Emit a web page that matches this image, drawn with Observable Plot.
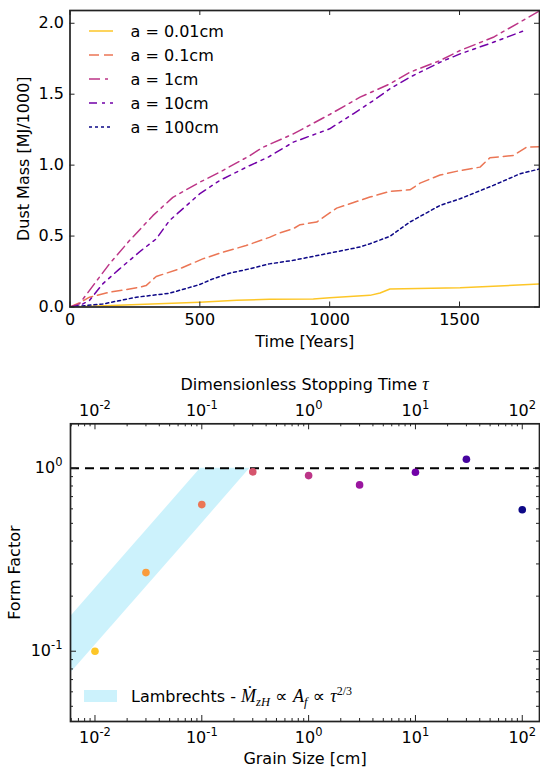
<!DOCTYPE html>
<html><head><meta charset="utf-8">
<script src="https://cdn.jsdelivr.net/npm/d3@7"></script>
<script src="https://cdn.jsdelivr.net/npm/@observablehq/plot@0.6"></script>
<style>
body{margin:0;background:#fff;}
#c{width:540px;}
#c svg{display:block;}
</style></head><body><div id="c"></div>
<script>
// ---------- Top chart data ----------
const seriesLabels = ["a = 0.01cm", "a = 0.1cm", "a = 1cm", "a = 10cm", "a = 100cm"];
const time001 = [0, 499, 642, 768, 937, 1000, 1155, 1194, 1232, 1502, 1810];
const mass001 = [0, 0.034, 0.047, 0.055, 0.056, 0.065, 0.082, 0.099, 0.127, 0.136, 0.162];
const time01 = [0, 37, 75, 152, 268, 293, 332, 422, 511, 588, 678, 768, 809, 860, 886, 950, 1027, 1155, 1232, 1309, 1348, 1425, 1502, 1579, 1617, 1707, 1758, 1810];
const mass01 = [0, 0.03, 0.069, 0.104, 0.139, 0.151, 0.215, 0.269, 0.339, 0.386, 0.433, 0.491, 0.523, 0.552, 0.58, 0.599, 0.697, 0.775, 0.815, 0.826, 0.873, 0.930, 0.962, 0.986, 1.052, 1.068, 1.127, 1.129];
const time1 = [0, 36, 94, 152, 229, 319, 396, 499, 576, 691, 742, 860, 1000, 1117, 1232, 1309, 1425, 1502, 1630, 1810];
const mass1 = [0, 0.022, 0.163, 0.304, 0.468, 0.644, 0.773, 0.879, 0.95, 1.065, 1.125, 1.22, 1.357, 1.479, 1.573, 1.655, 1.737, 1.808, 1.901, 2.089];
const time10 = [0, 37, 75, 126, 191, 274, 332, 383, 441, 499, 576, 691, 762, 860, 1000, 1091, 1168, 1232, 1309, 1425, 1502, 1630, 1755];
const mass10 = [0, 0.01, 0.046, 0.163, 0.269, 0.398, 0.48, 0.609, 0.703, 0.797, 0.891, 0.996, 1.055, 1.162, 1.256, 1.362, 1.455, 1.538, 1.62, 1.725, 1.784, 1.866, 1.952];
const time100 = [0, 126, 255, 383, 499, 550, 614, 691, 768, 860, 1000, 1117, 1155, 1232, 1309, 1425, 1502, 1630, 1733, 1810];
const mass100 = [0, 0.021, 0.069, 0.097, 0.158, 0.198, 0.238, 0.269, 0.304, 0.329, 0.38, 0.423, 0.446, 0.498, 0.599, 0.716, 0.763, 0.857, 0.939, 0.974];
const timeTicks = [0, 500, 1000, 1500];
const massTicks = [0, 0.5, 1.0, 1.5, 2.0];

// ---------- Bottom chart data ----------
const grainSizes = [0.01, 0.03, 0.1, 0.3, 1, 3, 10, 30, 100];
const formFactors = [0.100, 0.269, 0.633, 0.956, 0.912, 0.811, 0.951, 1.12, 0.593];
const bandX = [0.005, 0.0975, 0.2825];
const bandLow = [0.068, 0.49, 1.0];
const bandHigh = [0.138, 1.0, 1.0];
const logTicks = [0.01, 0.1, 1, 10, 100];
const formTicks = [0.1, 1];

// ---------- styles ----------
const FONT = "DejaVu Sans";
const MATH = "Liberation Serif";
const W = 540;
const plasma = d3.interpolatePlasma;
const lineColors = [plasma(0.88), plasma(0.66), plasma(0.44), plasma(0.22), plasma(0.0)];
const lineDashes = [null, "10,5", "11,5,3,5", "8,5,3,5,3,5", "3,3"];
const pointColors = grainSizes.map((_, i) => plasma(0.88 - i * 0.11));

const seriesTimes = [time001, time01, time1, time10, time100];
const seriesMasses = [mass001, mass01, mass1, mass10, mass100];

// ================= TOP CHART =================
const H1 = 362;
const T1 = {top: 10, bottom: 306.5, left: 69.5, right: 539};
const fH1 = T1.bottom - T1.top, fW1 = T1.right - T1.left;

const lineMarks = seriesTimes.map((ts, k) => {
  const rows = ts.map((t, i) => ({t, m: seriesMasses[k][i]}));
  return Plot.line(rows, {x: "t", y: "m", stroke: lineColors[k], strokeWidth: 1.5,
    strokeDasharray: lineDashes[k], clip: true});
});

const chart1 = Plot.plot({
  width: W, height: H1,
  marginLeft: T1.left, marginRight: W - T1.right, marginTop: T1.top, marginBottom: H1 - T1.bottom,
  style: {fontFamily: FONT, fontSize: "16px", color: "#000", background: "#fff", overflow: "visible"},
  x: {domain: [0, 1808]},
  y: {domain: [0, 2.09]},
  marks: [
    ...lineMarks,
    Plot.axisX({ticks: timeTicks, tickSize: 0, tickPadding: 7, tickFormat: d3.format("d"), label: null, fontSize: 16}),
    Plot.axisY({ticks: massTicks, tickSize: 0, tickPadding: 6, tickFormat: d3.format(".1f"), label: null, fontSize: 16}),
    Plot.tickX(timeTicks, {x: d => d, insetTop: fH1 - 5, stroke: "#222"}),
    Plot.tickX(timeTicks, {x: d => d, insetBottom: fH1 - 5, stroke: "#222"}),
    Plot.tickY(massTicks, {y: d => d, insetRight: fW1 - 5, stroke: "#222"}),
    Plot.tickY(massTicks, {y: d => d, insetLeft: fW1 - 5, stroke: "#222"}),
    Plot.frame({stroke: "#222", strokeWidth: 1.7}),
    Plot.text(["Time [Years]"], {frameAnchor: "bottom", dy: 34.5, textAnchor: "middle", lineAnchor: "middle", fontSize: 16, fill: "#000"}),
    Plot.text(["Dust Mass [MJ/1000]"], {frameAnchor: "left", dx: -46, rotate: -90, textAnchor: "middle", lineAnchor: "middle", fontSize: 16, fill: "#000"})
  ]
});

// legend (top chart)
{
  const svg = d3.select(chart1.tagName === "svg" ? chart1 : chart1.querySelector("svg"));
  const g = svg.append("g").attr("font-family", FONT).attr("font-size", 16).attr("text-anchor", "start");
  seriesLabels.forEach((lab, i) => {
    const y = 31 + 24 * i;
    g.append("line").attr("x1", 89).attr("x2", 113).attr("y1", y).attr("y2", y)
      .attr("stroke", lineColors[i]).attr("stroke-width", 1.5)
      .attr("stroke-dasharray", lineDashes[i]);
    g.append("text").attr("x", 130.5).attr("y", y).attr("dy", "0.35em").attr("text-anchor", "start")
      .attr("fill", "#000").text(lab);
  });
}

// ================= BOTTOM CHART =================
const H2 = 767 - H1;
const T2 = {top: 423.3 - H1, bottom: 721 - H1, left: 70, right: 539};
const fH2 = T2.bottom - T2.top, fW2 = T2.right - T2.left;

const fmtPow = d => "10^" + String(Math.round(Math.log10(d)));

const xMinor = [], yMinor = [];
for (const dec of [0.001, 0.01, 0.1, 1, 10, 100]) for (let m = 2; m <= 9; m++) {
  const v = dec * m; if (v > 0.0059 && v < 145) xMinor.push(v);
}
for (const dec of [0.01, 0.1, 1]) for (let m = 2; m <= 9; m++) {
  const v = dec * m; if (v > 0.0413 && v < 1.75) yMinor.push(v);
}

const bandRows = bandX.map((x, i) => ({x, lo: bandLow[i], hi: bandHigh[i]}));
const pointRows = grainSizes.map((s, i) => ({s, f: formFactors[i], c: pointColors[i]}));

const chart2 = Plot.plot({
  width: W, height: H2,
  marginLeft: T2.left, marginRight: W - T2.right, marginTop: T2.top, marginBottom: H2 - T2.bottom,
  style: {fontFamily: FONT, fontSize: "16px", color: "#000", background: "#fff", overflow: "visible"},
  x: {type: "log", domain: [0.0059, 145]},
  y: {type: "log", domain: [0.0413, 1.75]},
  color: {type: "identity"},
  marks: [
    Plot.areaY(bandRows, {x: "x", y1: "lo", y2: "hi", fill: "#ccf2fc", clip: true}),
    Plot.ruleY([1], {stroke: "#000", strokeWidth: 2, strokeDasharray: "9,6"}),
    Plot.dot(pointRows, {x: "s", y: "f", r: 3.8, fill: "c", stroke: null}),
    Plot.axisX({anchor: "bottom", ticks: logTicks, tickSize: 0, tickPadding: 10, tickFormat: fmtPow, label: null, fontSize: 16}),
    Plot.axisX({anchor: "top", ticks: logTicks, tickSize: 0, tickPadding: 8, tickFormat: fmtPow, label: null, fontSize: 16}),
    Plot.axisY({ticks: formTicks, tickSize: 0, tickPadding: 8, tickFormat: fmtPow, label: null, fontSize: 16}),
    Plot.tickX(logTicks, {x: d => d, insetTop: fH2 - 6, stroke: "#222"}),
    Plot.tickX(logTicks, {x: d => d, insetBottom: fH2 - 6, stroke: "#222"}),
    Plot.tickX(xMinor, {x: d => d, insetTop: fH2 - 3, stroke: "#222"}),
    Plot.tickX(xMinor, {x: d => d, insetBottom: fH2 - 3, stroke: "#222"}),
    Plot.tickY(formTicks, {y: d => d, insetRight: fW2 - 6, stroke: "#222"}),
    Plot.tickY(formTicks, {y: d => d, insetLeft: fW2 - 6, stroke: "#222"}),
    Plot.tickY(yMinor, {y: d => d, insetRight: fW2 - 3, stroke: "#222"}),
    Plot.tickY(yMinor, {y: d => d, insetLeft: fW2 - 3, stroke: "#222"}),
    Plot.frame({stroke: "#222", strokeWidth: 1.7}),
    Plot.text(["Grain Size [cm]"], {frameAnchor: "bottom", dy: 37, textAnchor: "middle", lineAnchor: "middle", fontSize: 16, fill: "#000"}),
    Plot.text(["Form Factor"], {frameAnchor: "left", dx: -56, rotate: -90, textAnchor: "middle", lineAnchor: "middle", fontSize: 16, fill: "#000"})
  ]
});

{
  const svg = d3.select(chart2.tagName === "svg" ? chart2 : chart2.querySelector("svg"));
  // power-of-ten tick labels with real superscripts
  svg.selectAll("text").each(function() {
    const s = this.textContent;
    if (!s.startsWith("10^") || this.children.length) return;
    const e = s.slice(3);
    this.textContent = "10";
    d3.select(this).append("tspan").attr("font-size", 11.5).attr("dy", -7).text(e);
  });

  // top axis title with italic tau
  const t = svg.append("text").attr("x", (T2.left + T2.right) / 2).attr("y", T2.top - 38.5)
    .attr("dy", "0.35em").attr("text-anchor", "middle").attr("font-family", FONT)
    .attr("font-size", 16).attr("fill", "#000");
  t.append("tspan").text("Dimensionless Stopping Time ");
  t.append("tspan").attr("font-family", MATH).attr("font-style", "italic").attr("font-size", 18).text("\u03C4");

  // legend
  const ly = 696 - H1;
  svg.append("rect").attr("x", 84).attr("y", ly - 6).attr("width", 33).attr("height", 12).attr("fill", "#ccf2fc");
  const lt = svg.append("text").attr("x", 131).attr("y", ly).attr("dy", "0.35em").attr("text-anchor", "start")
    .attr("font-family", FONT).attr("font-size", 16).attr("fill", "#000");
  lt.append("tspan").text("Lambrechts - ");
  const mi = (txt, size = 18) => lt.append("tspan").attr("font-family", MATH).attr("font-style", "italic").attr("font-size", size).text(txt);
  mi("M\u0307");
  lt.append("tspan").attr("font-family", MATH).attr("font-style", "italic").attr("font-size", 12.5).attr("dy", 4).text("zH");
  lt.append("tspan").attr("font-family", FONT).attr("font-size", 17).attr("dy", -4).text(" \u221D ");
  mi("A");
  lt.append("tspan").attr("font-family", MATH).attr("font-style", "italic").attr("font-size", 12.5).attr("dy", 4).text("f");
  lt.append("tspan").attr("font-family", FONT).attr("font-size", 17).attr("dy", -4).text(" \u221D ");
  mi("\u03C4");
  lt.append("tspan").attr("font-family", MATH).attr("font-size", 12).attr("dy", -7).text("2/3");
}

const c = document.getElementById("c");
c.appendChild(chart1);
c.appendChild(chart2);
</script></body></html>
